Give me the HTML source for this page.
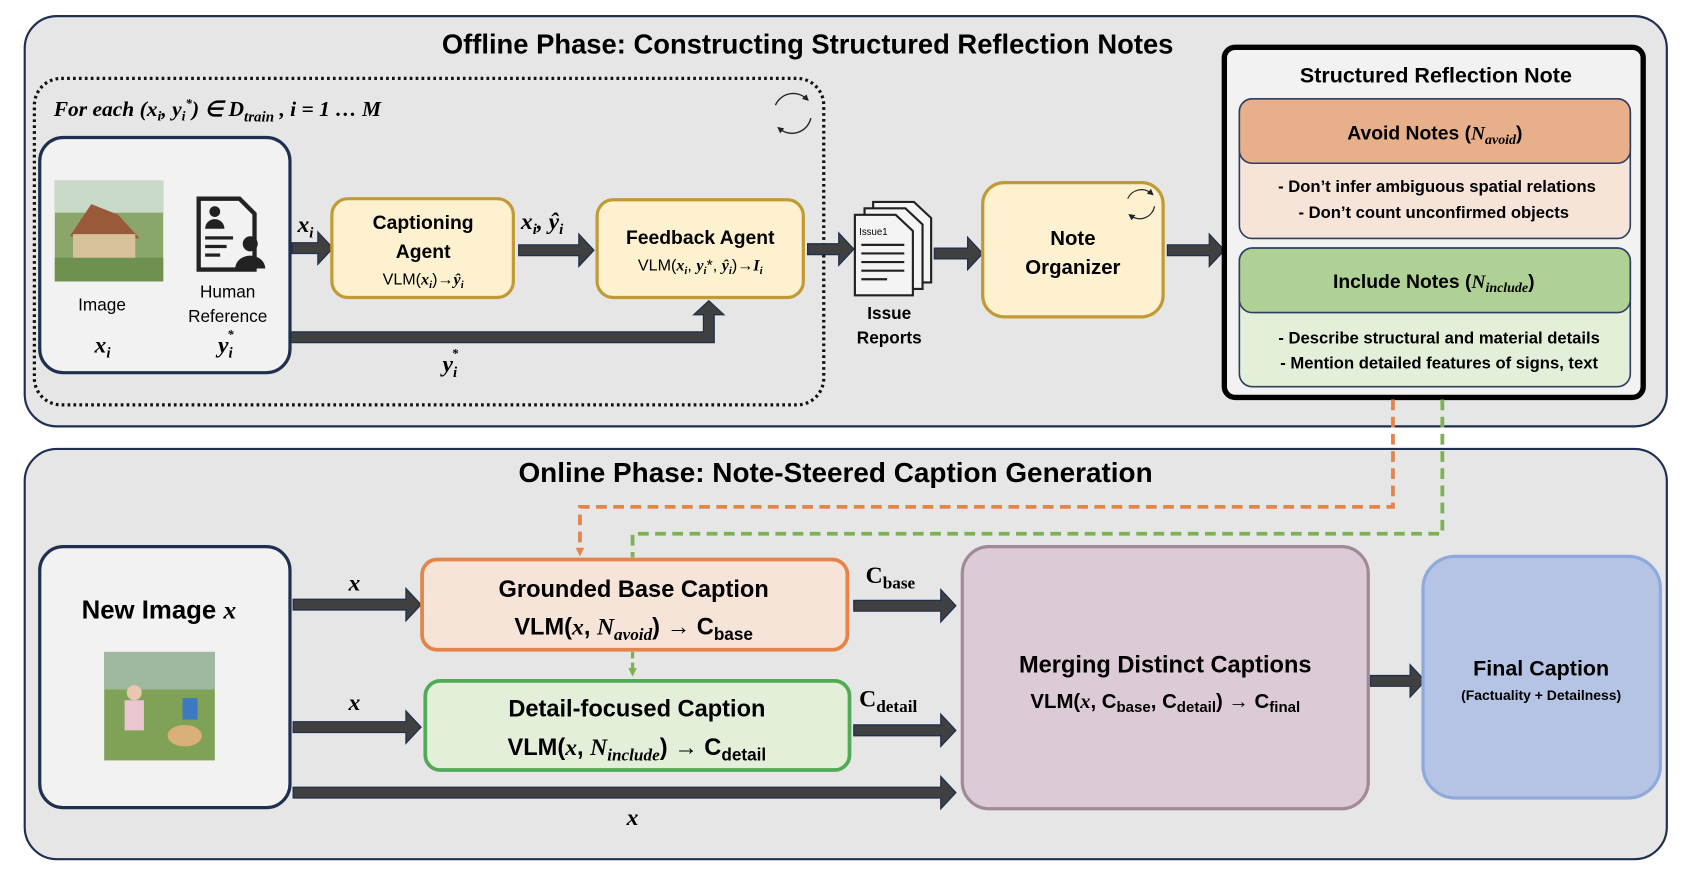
<!DOCTYPE html>
<html><head><meta charset="utf-8"><style>
html,body{margin:0;padding:0;background:#fff;}
svg{display:block;font-family:"Liberation Sans",sans-serif;}
.b{font-weight:bold;}
.m{font-family:"Liberation Serif",serif;font-style:italic;font-weight:bold;}
</style></head><body>
<svg width="1684" height="878" viewBox="0 0 1568 817.5" xmlns="http://www.w3.org/2000/svg">
<defs>
<marker id="ao" markerWidth="8" markerHeight="8" refX="4" refY="4" orient="auto" markerUnits="userSpaceOnUse"><path d="M0,0 L8,4 L0,8 z" fill="#e4844a"/></marker>
<marker id="ag" markerWidth="8" markerHeight="8" refX="4" refY="4" orient="auto" markerUnits="userSpaceOnUse"><path d="M0,0 L8,4 L0,8 z" fill="#7cb24f"/></marker>
<marker id="ak" markerWidth="6" markerHeight="6" refX="3" refY="3" orient="auto" markerUnits="userSpaceOnUse"><path d="M0,0 L6,3 L0,6 z" fill="#222"/></marker>
</defs>
<!-- panels -->
<rect x="23" y="15" width="1529" height="382" rx="30" fill="#e6e6e6" stroke="#1f2f4f" stroke-width="2"/>
<rect x="23" y="418" width="1529" height="382" rx="30" fill="#e6e6e6" stroke="#1f2f4f" stroke-width="2"/>
<text x="752" y="50" text-anchor="middle" font-size="25.5" class="b">Offline Phase: Constructing Structured Reflection Notes</text>
<text x="778" y="449" text-anchor="middle" font-size="26" class="b">Online Phase: Note-Steered Caption Generation</text>

<!-- dotted loop -->
<rect x="32" y="73" width="735" height="304" rx="25" fill="none" stroke="#111" stroke-width="3" stroke-dasharray="2.5,3"/>
<text x="50" y="108" font-size="20" class="m">For each (x<tspan font-size="13" dy="4">i</tspan><tspan dy="-4">, y</tspan><tspan font-size="13" dy="4">i</tspan><tspan font-size="12" dy="-12">*</tspan><tspan dy="8">) ∈ D</tspan><tspan font-size="14" dy="5">train</tspan><tspan dy="-5"> ,  i = 1  … M</tspan></text>
<g fill="none" stroke="#222" stroke-width="1.3"><path d="M722,98 A18,18 0 0 1 751,92" marker-end="url(#ak)"/><path d="M755,110 A18,18 0 0 1 726,120" marker-end="url(#ak)"/></g>

<!-- image box -->
<rect x="37" y="128" width="233" height="219" rx="22" fill="#f2f2f2" stroke="#1f2f4f" stroke-width="3"/>
<rect x="51" y="168" width="101" height="94" fill="#8aa66a"/>
<rect x="51" y="168" width="101" height="30" fill="#c9d9c8"/>
<path d="M65,220 L85,190 L110,200 L130,222 Z" fill="#9a5a3a"/>
<rect x="68" y="218" width="58" height="28" fill="#d7c19a"/>
<rect x="51" y="240" width="101" height="22" fill="#6f9150"/>
<g fill="#222">
<path d="M185,185 h38 l14,14 v52 h-52 z" fill="none" stroke="#222" stroke-width="4"/>
<circle cx="200" cy="197" r="5"/><path d="M191,213 a9,9 0 0 1 18,0 z"/>
<rect x="191" y="220" width="26" height="3"/><rect x="191" y="228" width="20" height="3"/><rect x="191" y="236" width="14" height="3"/>
<circle cx="233" cy="227" r="7"/><path d="M219,250 a14,12 0 0 1 28,0 z"/>
</g>
<text x="95" y="289" text-anchor="middle" font-size="16">Image</text>
<text x="212" y="277" text-anchor="middle" font-size="16">Human</text>
<text x="212" y="300" text-anchor="middle" font-size="16">Reference</text>
<text x="88" y="328" font-size="22" class="m">x<tspan font-size="14" dy="5">i</tspan></text>
<text x="203" y="328" font-size="22" class="m">y<tspan font-size="14" dy="5">i</tspan><tspan font-size="12" dx="-5" dy="-18">*</tspan></text>

<!-- block arrows -->
<g fill="#404040" stroke="#1f2f4f" stroke-width="1.2">
<path d="M272,226 h24 v-10 l14,15 l-14,15 v-10 h-24 z"/>
<path d="M483,228 h56 v-10 l14,15 l-14,15 v-10 h-56 z"/>
<path d="M752,227 h29 v-10 l14,15 l-14,15 v-10 h-29 z"/>
<path d="M870,231 h31 v-10 l14,15 l-14,15 v-10 h-31 z"/>
<path d="M1087,228 h39 v-10 l14,15 l-14,15 v-10 h-39 z"/>
<path d="M271,309 h384 v-16 h-9 l14,-13 l14,13 h-9 v26 h-394 z"/>
<path d="M273,558 h105 v-10 l14,15 l-14,15 v-10 h-105 z"/>
<path d="M273,672 h105 v-10 l14,15 l-14,15 v-10 h-105 z"/>
<path d="M273,733 h603 v-10 l14,15 l-14,15 v-10 h-603 z"/>
<path d="M795,559 h81 v-10 l14,15 l-14,15 v-10 h-81 z"/>
<path d="M795,675 h81 v-10 l14,15 l-14,15 v-10 h-81 z"/>
<path d="M1276,629 h37 v-10 l14,15 l-14,15 v-10 h-37 z"/>
</g>
<text x="277" y="216" font-size="22" class="m">x<tspan font-size="14" dy="5">i</tspan></text>
<text x="485" y="213" font-size="22" class="m">x<tspan font-size="14" dy="5">i</tspan><tspan dy="-5">, ŷ</tspan><tspan font-size="14" dy="5">i</tspan></text>
<text x="412" y="346" font-size="22" class="m">y<tspan font-size="14" dy="5">i</tspan><tspan font-size="12" dx="-5" dy="-18">*</tspan></text>

<!-- captioning / feedback -->
<rect x="309" y="185" width="169" height="92" rx="15" fill="#fdf1cf" stroke="#c09a35" stroke-width="3"/>
<text x="394" y="213" text-anchor="middle" font-size="18" class="b">Captioning</text>
<text x="394" y="240" text-anchor="middle" font-size="18" class="b">Agent</text>
<text x="394" y="265" text-anchor="middle" font-size="15">VLM(<tspan class="m">x</tspan><tspan font-size="10" class="m" dy="3">i</tspan><tspan dy="-3">)→</tspan><tspan class="m">ŷ</tspan><tspan font-size="10" class="m" dy="3">i</tspan></text>
<rect x="556" y="186" width="192" height="91" rx="15" fill="#fdf1cf" stroke="#c09a35" stroke-width="3"/>
<text x="652" y="227" text-anchor="middle" font-size="18" class="b">Feedback Agent</text>
<text x="652" y="252" text-anchor="middle" font-size="15">VLM(<tspan class="m">x</tspan><tspan font-size="10" class="m" dy="3">i</tspan><tspan dy="-3">, </tspan><tspan class="m">y</tspan><tspan font-size="10" class="m" dy="3">i</tspan><tspan dy="-3">*, </tspan><tspan class="m">ŷ</tspan><tspan font-size="10" class="m" dy="3">i</tspan><tspan dy="-3">)→</tspan><tspan class="m">I</tspan><tspan font-size="10" class="m" dy="3">i</tspan></text>

<!-- docs -->
<g fill="#f4f4f4" stroke="#222" stroke-width="2">
<path d="M813,188 h38 l16,15 v60 h-54 z"/>
<path d="M805,194 h38 l16,15 v60 h-54 z"/>
<path d="M796,200 h38 l16,15 v60 h-54 z"/>
</g>
<text x="800" y="219" font-size="9">Issue1</text>
<g stroke="#222" stroke-width="2"><path d="M802,228h40M802,236h40M802,244h40M802,252h40M802,260h24"/></g>
<text x="828" y="297" text-anchor="middle" font-size="16" class="b">Issue</text>
<text x="828" y="320" text-anchor="middle" font-size="16" class="b">Reports</text>

<rect x="915" y="170" width="168" height="125" rx="20" fill="#fdf1cf" stroke="#c09a35" stroke-width="3"/>
<text x="999" y="228" text-anchor="middle" font-size="19" class="b">Note</text>
<text x="999" y="255" text-anchor="middle" font-size="19" class="b">Organizer</text>
<g fill="none" stroke="#222" stroke-width="1.1"><path d="M1050,185 A14,14 0 0 1 1072,180" marker-end="url(#ak)"/><path d="M1075,192 A14,14 0 0 1 1053,201" marker-end="url(#ak)"/></g>

<!-- SRN -->
<rect x="1140" y="44" width="390" height="326" rx="10" fill="#f2f2f2" stroke="#000" stroke-width="5"/>
<text x="1337" y="77" text-anchor="middle" font-size="20" class="b">Structured Reflection Note</text>
<rect x="1154" y="92" width="364" height="130" rx="12" fill="#f6e4d8" stroke="#2f3f5f" stroke-width="1.5"/>
<rect x="1154" y="92" width="364" height="60" rx="12" fill="#e8b08a" stroke="#2f3f5f" stroke-width="1.5"/>
<text x="1336" y="130" text-anchor="middle" font-size="18" class="b">Avoid Notes (<tspan class="m">N</tspan><tspan class="m" font-size="13" dy="4">avoid</tspan><tspan dy="-4">)</tspan></text>
<text x="1338" y="179" text-anchor="middle" font-size="15.5" class="b">- Don’t infer ambiguous spatial relations</text>
<text x="1335" y="203" text-anchor="middle" font-size="15.5" class="b">- Don’t count unconfirmed objects</text>
<rect x="1154" y="231" width="364" height="129" rx="12" fill="#e4efda" stroke="#2f3f5f" stroke-width="1.5"/>
<rect x="1154" y="231" width="364" height="60" rx="12" fill="#b0d196" stroke="#2f3f5f" stroke-width="1.5"/>
<text x="1335" y="268" text-anchor="middle" font-size="18" class="b">Include Notes (<tspan class="m">N</tspan><tspan class="m" font-size="13" dy="4">include</tspan><tspan dy="-4">)</tspan></text>
<text x="1340" y="320" text-anchor="middle" font-size="15.5" class="b">- Describe structural and material details</text>
<text x="1340" y="343" text-anchor="middle" font-size="15.5" class="b">- Mention detailed features of signs, text</text>

<!-- dashed connectors -->
<path d="M1297,372 V472 H540 V514" fill="none" stroke="#e4844a" stroke-width="3.5" stroke-dasharray="10,6" marker-end="url(#ao)"/>
<path d="M1343,372 V497 H589 V519" fill="none" stroke="#7cb24f" stroke-width="3.5" stroke-dasharray="10,6"/>
<path d="M589,607 V626" fill="none" stroke="#7cb24f" stroke-width="3" stroke-dasharray="6,4" marker-end="url(#ag)"/>

<!-- online -->
<rect x="37" y="509" width="233" height="243" rx="22" fill="#f2f2f2" stroke="#1f2f4f" stroke-width="3"/>
<text x="148" y="576" text-anchor="middle" font-size="24" class="b">New Image <tspan class="m">x</tspan></text>
<rect x="97" y="607" width="103" height="101" fill="#7fa256"/>
<rect x="97" y="607" width="103" height="35" fill="#9fb8a0"/>
<circle cx="125" cy="645" r="7" fill="#e8c6b0"/><rect x="116" y="652" width="18" height="28" fill="#e9c7d0"/>
<rect x="170" y="650" width="14" height="20" fill="#3d78c4"/>
<ellipse cx="172" cy="685" rx="16" ry="10" fill="#d8b078"/>
<text x="330" y="550" text-anchor="middle" font-size="22" class="m">x</text>
<text x="330" y="661" text-anchor="middle" font-size="22" class="m">x</text>
<text x="589" y="768" text-anchor="middle" font-size="22" class="m">x</text>

<rect x="393" y="521" width="396" height="84" rx="14" fill="#f6e4d8" stroke="#e4844a" stroke-width="3.5"/>
<text x="590" y="556" text-anchor="middle" font-size="22" class="b">Grounded Base Caption</text>
<text x="590" y="591" text-anchor="middle" font-size="22" class="b">VLM(<tspan class="m">x</tspan>, <tspan class="m">N</tspan><tspan class="m" font-size="16" dy="5">avoid</tspan><tspan dy="-5">) → C</tspan><tspan font-size="16" dy="5">base</tspan></text>
<rect x="396" y="634" width="395" height="83" rx="14" fill="#e4efda" stroke="#52aa56" stroke-width="3.5"/>
<text x="593" y="667" text-anchor="middle" font-size="22" class="b">Detail-focused Caption</text>
<text x="593" y="703" text-anchor="middle" font-size="22" class="b">VLM(<tspan class="m">x</tspan>, <tspan class="m">N</tspan><tspan class="m" font-size="16" dy="5">include</tspan><tspan dy="-5">) → C</tspan><tspan font-size="16" dy="5">detail</tspan></text>

<text x="806" y="543" font-size="22" class="b" font-family="Liberation Serif">C<tspan font-size="16" dy="5">base</tspan></text>
<text x="800" y="658" font-size="22" class="b" font-family="Liberation Serif">C<tspan font-size="16" dy="5">detail</tspan></text>

<rect x="896" y="509" width="378" height="244" rx="25" fill="#dccad6" stroke="#a08a98" stroke-width="3"/>
<text x="1085" y="626" text-anchor="middle" font-size="22" class="b">Merging Distinct Captions</text>
<text x="1085" y="659" text-anchor="middle" font-size="19" class="b">VLM(<tspan class="m">x</tspan>, C<tspan font-size="14" dy="4">base</tspan><tspan dy="-4">, C</tspan><tspan font-size="14" dy="4">detail</tspan><tspan dy="-4">) → C</tspan><tspan font-size="14" dy="4">final</tspan></text>

<rect x="1325" y="518" width="221" height="225" rx="30" fill="#b5c4e5" stroke="#8fa9dd" stroke-width="3"/>
<text x="1435" y="629" text-anchor="middle" font-size="20" class="b">Final Caption</text>
<text x="1435" y="652" text-anchor="middle" font-size="13" class="b">(Factuality + Detailness)</text>
</svg>
</body></html>
